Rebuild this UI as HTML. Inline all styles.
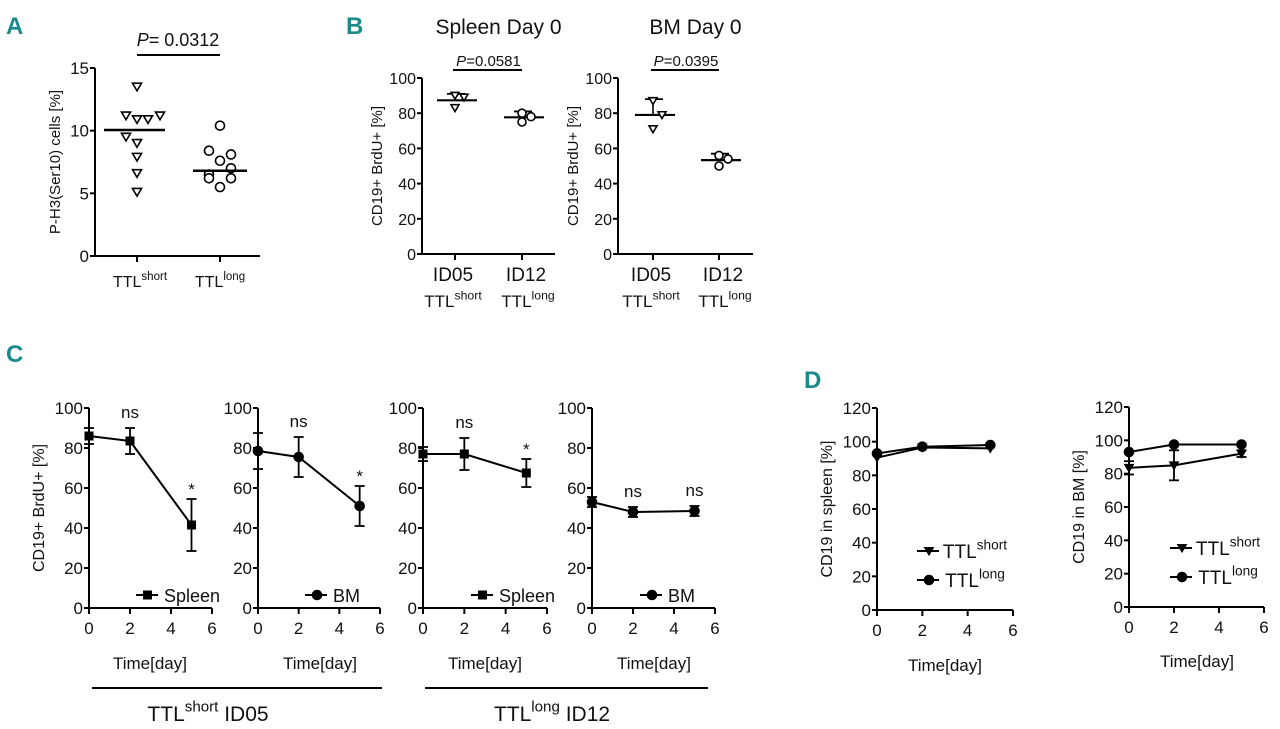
<!DOCTYPE html>
<html><head><meta charset="utf-8">
<style>
html,body{margin:0;padding:0;background:#fff;}
svg{display:block;font-family:"Liberation Sans",sans-serif;}
.pl{fill:#1b8a8c;font-weight:bold;font-size:24px;}
</style></head>
<body>
<svg id="fig" width="1280" height="729" viewBox="0 0 1280 729" xmlns="http://www.w3.org/2000/svg">
<text class="pl" x="6" y="34">A</text>
<text class="pl" x="346" y="34">B</text>
<text class="pl" x="6" y="362">C</text>
<text class="pl" x="804" y="388">D</text>
</svg>
<script>
// ---------- data ----------
const aShort = [13.5, 11.2, 10.9, 10.9, 11.2, 9.5, 9.0, 7.9, 6.6, 5.1];
const aShortDx = [0, -11, 0, 11, 23, -11, 0, 0, 0, 0];
const aLong = [10.4, 8.4, 8.1, 7.6, 7.0, 6.5, 6.2, 6.2, 5.5];
const aLongDx = [0, -11, 11, 0, 11, -11, -11, 11, 0];
const aMeans = [10.05, 6.8];
const aTicks = [0, 5, 10, 15];

const bSpleenShort = [90, 89, 83];
const bSpleenLong = [80, 78, 75];
const bBMShort = [87, 79, 71];
const bBMLong = [56, 54, 50];
const bTicks = [0, 20, 40, 60, 80, 100];

const cDays = [0, 2, 5];
const cSpleenShort = [86, 83.5, 41.5];
const cSpleenShortErr = [4, 6.5, 13];
const cBMShort = [78.5, 75.5, 51];
const cBMShortErr = [9, 10, 10];
const cSpleenLong = [77, 77, 67.5];
const cSpleenLongErr = [3.5, 8, 7];
const cBMLong = [53, 48, 48.5];
const cBMLongErr = [2.5, 2.5, 2.5];
const cSig1 = ["", "ns", "*"];
const cSig2 = ["", "ns", "*"];
const cSig3 = ["", "ns", "*"];
const cSig4 = ["", "ns", "ns"];
const cTicks = [0, 20, 40, 60, 80, 100];
const xTicks = [0, 2, 4, 6];

const dSpleenShort = [90.5, 96.5, 96];
const dSpleenLong = [93, 97, 98];
const dBMShort = [83.5, 85, 92];
const dBMLong = [93, 97.5, 97.5];
const dBMShortErr = [4, 9, 2];
const dTicks = [0, 20, 40, 60, 80, 100, 120];

// ---------- helpers ----------
const svg = document.getElementById('fig');
const NS = 'http://www.w3.org/2000/svg';
function el(tag, attrs, parent) {
  const e = document.createElementNS(NS, tag);
  for (const k in attrs) e.setAttribute(k, attrs[k]);
  (parent || svg).appendChild(e);
  return e;
}
function txt(x, y, s, size, anchor, parent) {
  const t = el('text', {x: x, y: y, 'font-size': size, 'text-anchor': anchor || 'middle', fill: '#111'}, parent);
  t.textContent = s;
  return t;
}
function ttl(x, y, sup, size, parent, extra) {
  const t = el('text', {x: x, y: y, 'font-size': size, 'text-anchor': 'middle', fill: '#111'}, parent);
  const a = document.createElementNS(NS, 'tspan'); a.textContent = 'TTL'; t.appendChild(a);
  const b = document.createElementNS(NS, 'tspan'); b.setAttribute('dy', -size * 0.45); b.setAttribute('font-size', size * 0.72); b.textContent = sup; t.appendChild(b);
  if (extra) { const c = document.createElementNS(NS, 'tspan'); c.setAttribute('dy', size * 0.45); c.textContent = extra; t.appendChild(c); }
  return t;
}
function yAxis(g, x0, yTop, yBot, xEnd, ticks, max, size) {
  const sy = v => yBot - (v / max) * (yBot - yTop);
  el('line', {x1: x0, y1: yTop, x2: x0, y2: yBot, stroke: '#000', 'stroke-width': 2}, g);
  el('line', {x1: x0, y1: yBot, x2: xEnd, y2: yBot, stroke: '#000', 'stroke-width': 2}, g);
  ticks.forEach(v => {
    el('line', {x1: x0 - 5, y1: sy(v), x2: x0, y2: sy(v), stroke: '#000', 'stroke-width': 2}, g);
    txt(x0 - 6, sy(v) + 6, String(v), size, 'end', g);
  });
  return sy;
}
function triDown(g, x, y, r, filled) {
  el('path', {d: `M${x - r},${y - r * 0.8} L${x + r},${y - r * 0.8} L${x},${y + r * 0.9} Z`, fill: filled ? '#000' : '#fff', stroke: '#000', 'stroke-width': 1.6}, g);
}
function circ(g, x, y, r, filled) {
  el('circle', {cx: x, cy: y, r: r, fill: filled ? '#000' : '#fff', stroke: '#000', 'stroke-width': 1.6}, g);
}
function ylabel(g, x, y, s, size) {
  const t = txt(x, y, s, size, 'middle', g);
  t.setAttribute('transform', `rotate(-90 ${x} ${y})`);
}
function mean(arr) { return arr.reduce((a, b) => a + b, 0) / arr.length; }

// ---------- Panel A ----------
(function () {
  const g = el('g', {});
  
  
  const x0 = 95, xs = [137, 220];
  const sy = yAxis(g, x0, 68, 256, 260, aTicks, 15, 17);
  xs.forEach(x => el('line', {x1: x, y1: 256, x2: x, y2: 262, stroke: '#000', 'stroke-width': 2}, g));
  ylabel(g, 60, 162, 'P-H3(Ser10) cells [%]', 15);
  ttl(140, 287, 'short', 16, g);
  ttl(220, 287, 'long', 16, g);
  aShort.forEach((v, i) => {
    const m = el('g', {}, g);
    
    
    triDown(m, xs[0] + aShortDx[i], sy(v), 4.5, false);
  });
  aLong.forEach((v, i) => {
    const m = el('g', {}, g);
    
    
    circ(m, xs[1] + aLongDx[i], sy(v), 4.5, false);
  });
  el('line', {x1: 104, y1: sy(aMeans[0]), x2: 165, y2: sy(aMeans[0]), stroke: '#000', 'stroke-width': 2.5}, g);
  el('line', {x1: 193, y1: sy(aMeans[1]), x2: 247, y2: sy(aMeans[1]), stroke: '#000', 'stroke-width': 2.5}, g);
  el('line', {x1: 137, y1: 55, x2: 220, y2: 55, stroke: '#000', 'stroke-width': 2}, g);
  const p = txt(178, 46, '', 18, 'middle', g);
  p.innerHTML = '<tspan font-style="italic">P</tspan>= 0.0312';
})();

// ---------- Panel B ----------
function panelB(name, x0, xEnd, xs, title, ptxt, sh, lg) {
  const g = el('g', {});
  
  
  const sy = yAxis(g, x0, 78, 254, xEnd, bTicks, 100, 16);
  xs.forEach(x => el('line', {x1: x, y1: 254, x2: x, y2: 260, stroke: '#000', 'stroke-width': 2}, g));
  ylabel(g, x0 -  40, 166, 'CD19+ BrdU+ [%]', 15);
  txt((x0 + xEnd) / 2 + 10, 34, title, 21, 'middle', g);
  el('line', {x1: xs[0] - 2, y1: 70, x2: xs[1], y2: 70, stroke: '#000', 'stroke-width': 2}, g);
  const p = txt((xs[0] + xs[1]) / 2, 66, '', 15, 'middle', g);
  p.innerHTML = '<tspan font-style="italic">P</tspan>=' + ptxt;
  txt(xs[0] - 2, 281, 'ID05', 19, 'middle', g);
  txt(xs[1] + 4, 281, 'ID12', 19, 'middle', g);
  ttl(xs[0] - 2, 307, 'short', 17, g);
  ttl(xs[1] + 6, 307, 'long', 17, g);
  [[sh, triDown, xs[0]], [lg, circ, xs[1]]].forEach(([arr, fn, x]) => {
    const m = mean(arr), mx = Math.max(...arr);
    el('line', {x1: x - 18, y1: sy(m), x2: x + 22, y2: sy(m), stroke: '#000', 'stroke-width': 2.2}, g);
    el('line', {x1: x, y1: sy(m), x2: x, y2: sy(mx + 1), stroke: '#000', 'stroke-width': 1.6}, g);
    el('line', {x1: x - 8, y1: sy(mx + 1), x2: x + 10, y2: sy(mx + 1), stroke: '#000', 'stroke-width': 1.8}, g);
    arr.forEach((v, i) => {
      const mk = el('g', {}, g);
      
      
      fn(mk, x + [0, 9, 0][i], sy(v), 4, false);
    });
  });
}
panelB('panel-b-spleen', 422, 555, [455, 522], 'Spleen Day 0', '0.0581', bSpleenShort, bSpleenLong);
panelB('panel-b-bm', 618, 753, [653, 719], 'BM Day 0', '0.0395', bBMShort, bBMLong);

// ---------- Panel C / D line charts ----------
function lineChart(name, x0, x6, yTop, yBot, ticks, max, series, legend, sig, ylab) {
  const g = el('g', {});
  
  
  const sy = yAxis(g, x0, yTop, yBot, x6, ticks, max, 17);
  const sx = v => x0 + (v / 6) * (x6 - x0);
  xTicks.forEach(v => {
    el('line', {x1: sx(v), y1: yBot, x2: sx(v), y2: yBot + 6, stroke: '#000', 'stroke-width': 2}, g);
    txt(sx(v), yBot + 26, String(v), 17, 'middle', g);
  });
  if (ylab) ylabel(g, x0 - 45, (yTop + yBot) / 2, ylab, 16);
  series.forEach(s => {
    const pts = cDays.map((d, i) => `${sx(d)},${sy(s.vals[i])}`).join(' ');
    const pl = el('polyline', {points: pts, fill: 'none', stroke: '#000', 'stroke-width': 2}, g);
    
    
    cDays.forEach((d, i) => {
      const e = s.err ? s.err[i] : 0;
      if (e) {
        const x = sx(d);
        el('line', {x1: x, y1: sy(s.vals[i] - e), x2: x, y2: sy(s.vals[i] + e), stroke: '#000', 'stroke-width': 1.8}, g);
        el('line', {x1: x - 5, y1: sy(s.vals[i] - e), x2: x + 5, y2: sy(s.vals[i] - e), stroke: '#000', 'stroke-width': 1.8}, g);
        el('line', {x1: x - 5, y1: sy(s.vals[i] + e), x2: x + 5, y2: sy(s.vals[i] + e), stroke: '#000', 'stroke-width': 1.8}, g);
      }
      const mk = el('g', {}, g);
      
      
      if (s.m === 'sq') el('rect', {x: sx(d) - 4.5, y: sy(s.vals[i]) - 4.5, width: 9, height: 9, fill: '#000'}, mk);
      else if (s.m === 'tri') triDown(mk, sx(d), sy(s.vals[i]), 4, true);
      else circ(mk, sx(d), sy(s.vals[i]), 4.5, true);
      if (sig && sig[i]) {
        const top = s.vals[i] + e;
        txt(sx(d), sy(top) - (sig[i] === '*' ? 4 : 10), sig[i], 17, 'middle', g);
      }
    });
  });
  (legend || []).forEach(l => {
    const lg = el('g', {}, g);
    
    
    el('line', {x1: l.x, y1: l.y, x2: l.x + 22, y2: l.y, stroke: '#000', 'stroke-width': 2}, lg);
    if (l.m === 'sq') el('rect', {x: l.x + 7, y: l.y - 4.5, width: 9, height: 9, fill: '#000'}, lg);
    else if (l.m === 'tri') triDown(lg, l.x + 12, l.y, 4, true);
    else circ(lg, l.x + 12, l.y, 4.5, true);
    if (l.sup) ttl(l.x + 58, l.y + 7, l.sup, 19, lg);
    else txt(l.x + 28, l.y + 7, l.label, 18, 'start', lg);
  });
  return {g, sx, sy};
}
lineChart('panel-c-spleen-short', 89, 212, 408, 608, cTicks, 100,
  [{vals: cSpleenShort, err: cSpleenShortErr, m: 'sq'}], [{x: 136, y: 595, m: 'sq', label: 'Spleen'}], cSig1, 'CD19+ BrdU+ [%]');
lineChart('panel-c-bm-short', 258, 380, 408, 608, cTicks, 100,
  [{vals: cBMShort, err: cBMShortErr, m: 'ci'}], [{x: 305, y: 595, m: 'ci', label: 'BM'}], cSig2);
lineChart('panel-c-spleen-long', 423, 547, 408, 608, cTicks, 100,
  [{vals: cSpleenLong, err: cSpleenLongErr, m: 'sq'}], [{x: 471, y: 595, m: 'sq', label: 'Spleen'}], cSig3);
lineChart('panel-c-bm-long', 592, 715, 408, 608, cTicks, 100,
  [{vals: cBMLong, err: cBMLongErr, m: 'ci'}], [{x: 640, y: 595, m: 'ci', label: 'BM'}], cSig4);
[150, 320, 485, 654].forEach(x => txt(x, 669, 'Time[day]', 17, 'middle'));
el('line', {x1: 92, y1: 688, x2: 382, y2: 688, stroke: '#000', 'stroke-width': 2});
el('line', {x1: 425, y1: 688, x2: 708, y2: 688, stroke: '#000', 'stroke-width': 2});
ttl(208, 721, 'short', 21, svg, ' ID05');
ttl(552, 721, 'long', 21, svg, ' ID12');

// ---------- Panel D ----------
lineChart('panel-d-spleen', 877, 1013, 408, 610, dTicks, 120,
  [{vals: dSpleenShort, m: 'tri'}, {vals: dSpleenLong, m: 'ci'}],
  [{x: 917, y: 551, m: 'tri', sup: 'short'}, {x: 917, y: 580, m: 'ci', sup: 'long'}], null, 'CD19 in spleen [%]');
lineChart('panel-d-bm', 1129, 1264, 407, 607, dTicks, 120,
  [{vals: dBMShort, err: dBMShortErr, m: 'tri'}, {vals: dBMLong, m: 'ci'}],
  [{x: 1170, y: 548, m: 'tri', sup: 'short'}, {x: 1170, y: 577, m: 'ci', sup: 'long'}], null, 'CD19 in BM [%]');
txt(945, 671, 'Time[day]', 17, 'middle');
txt(1197, 667, 'Time[day]', 17, 'middle');
</script>
</body></html>
